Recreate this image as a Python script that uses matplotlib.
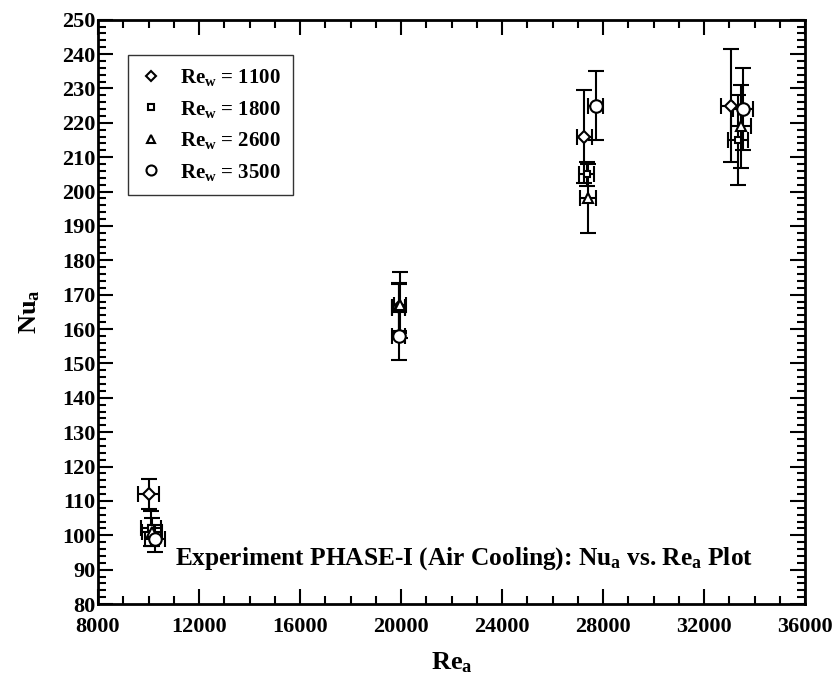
import matplotlib.pyplot as plt
from matplotlib.lines import Line2D
from matplotlib.ticker import MultipleLocator

plt.rcParams['font.family'] = 'Liberation Serif'
plt.rcParams['font.weight'] = 'bold'
plt.rcParams['mathtext.fontset'] = 'custom'
plt.rcParams['mathtext.rm'] = 'Liberation Serif:bold'
plt.rcParams['mathtext.bf'] = 'Liberation Serif:bold'

# Re_w series: Re_a, Nu_a, y error
rew_labels = ['1100', '1800', '2600', '3500']
markers = ['D', 's', '^', 'o']
msizes = [6, 5, 7, 9]

re_1100 = [10000, 19900, 27250, 33050]
nu_1100 = [112, 166.5, 216, 225]
ye_1100 = [4.3, 7, 13.5, 16.5]

re_1800 = [10100, 19900, 27350, 33350]
nu_1800 = [102, 166, 205, 215]
ye_1800 = [5, 7, 3.5, 13]

re_2600 = [10150, 19950, 27400, 33450]
nu_2600 = [101, 167, 198, 219]
ye_2600 = [4, 9.5, 10, 12]

re_3500 = [10250, 19900, 27700, 33550]
nu_3500 = [99, 158, 225, 224]
ye_3500 = [4, 7, 10, 12]

xerr_all = [400, 250, 300, 400]

series = [(re_1100, nu_1100, ye_1100), (re_1800, nu_1800, ye_1800),
          (re_2600, nu_2600, ye_2600), (re_3500, nu_3500, ye_3500)]

fig = plt.figure(figsize=(8.34, 6.81), dpi=100)
ax = fig.add_axes([0.1175, 0.113, 0.848, 0.858])

handles = []
for (x, y, ye), lab, m, ms in zip(series, rew_labels, markers, msizes):
    ax.errorbar(x, y, yerr=ye, xerr=xerr_all, fmt=m, ms=ms, mfc='white',
                mec='black', mew=1.5, ecolor='black', elinewidth=1.5,
                capsize=5.5, capthick=1.5)
    handles.append(Line2D([], [], ls='none', marker=m, ms=ms * 0.8, mfc='white',
                          mec='black', mew=1.5, label=r'$\mathbf{Re_w}$ = ' + lab))

ax.set_xlim(8000, 36000)
ax.set_ylim(80, 250)
ax.xaxis.set_major_locator(MultipleLocator(4000))
ax.xaxis.set_minor_locator(MultipleLocator(1000))
ax.yaxis.set_major_locator(MultipleLocator(10))
ax.yaxis.set_minor_locator(MultipleLocator(2))
ax.tick_params(which='both', direction='in', top=True, right=True, width=1.5)
ax.tick_params(which='major', length=11, labelsize=16)
ax.tick_params(axis='y', which='major', pad=2)
ax.tick_params(axis='x', which='major', pad=9)
ax.tick_params(which='minor', length=6)
for s in ax.spines.values():
    s.set_linewidth(2)

ax.set_xlabel(r'$\mathbf{Re_a}$', fontsize=19, labelpad=10)
ax.set_ylabel(r'$\mathbf{Nu_a}$', fontsize=19, labelpad=14)

ax.text(0.926, 0.077, r'Experiment PHASE-I (Air Cooling): $\mathbf{Nu_a}$ vs. $\mathbf{Re_a}$ Plot',
        transform=ax.transAxes, ha='right', va='center', fontsize=18.3)

leg = ax.legend(handles=handles, loc='upper left', bbox_to_anchor=(0.042, 0.94),
                fontsize=15, frameon=True, fancybox=False, edgecolor='black',
                handlelength=1.0, handletextpad=0.9, labelspacing=0.5,
                borderpad=0.6, borderaxespad=0)
leg.get_frame().set_linewidth(1.0)

fig.savefig('out.png', dpi=100)
